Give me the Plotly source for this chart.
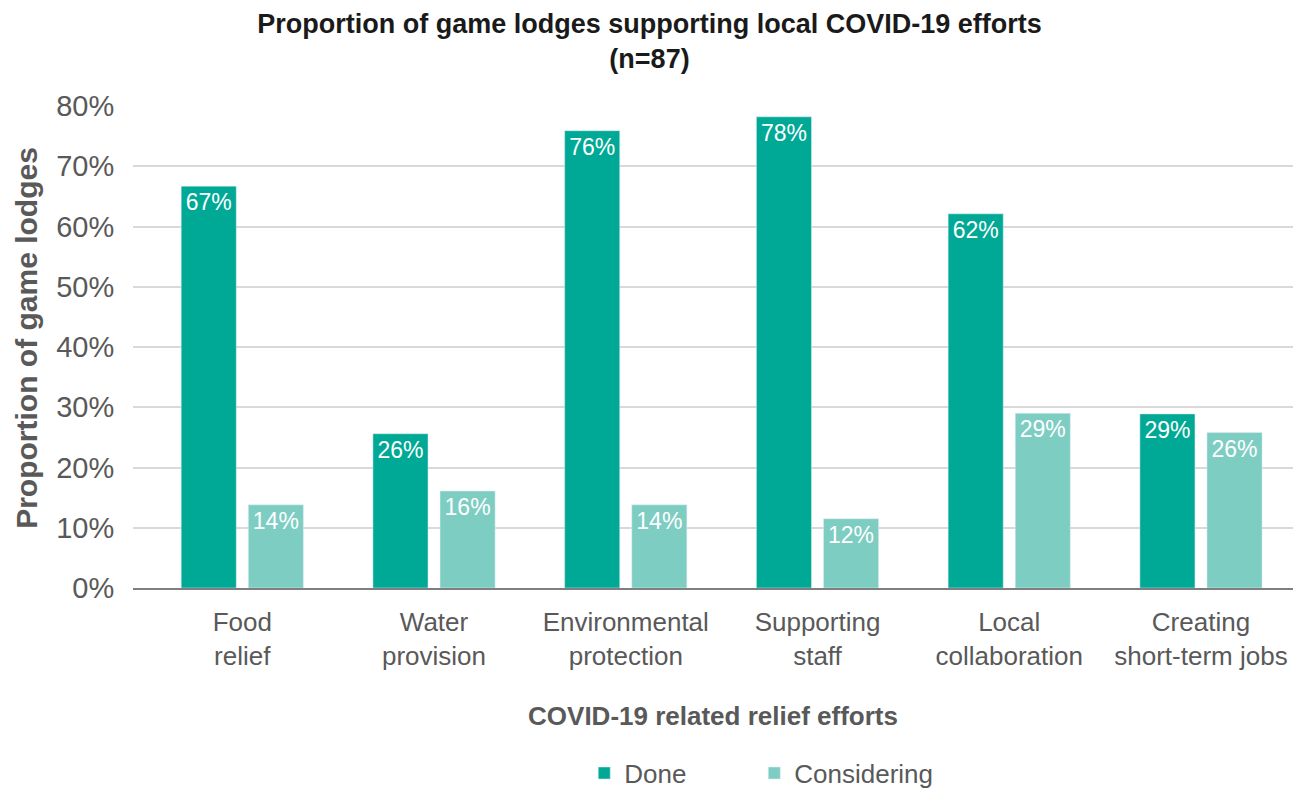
import plotly.graph_objects as go

categories = ["Food<br>relief", "Water<br>provision", "Environmental<br>protection",
              "Supporting<br>staff", "Local<br>collaboration", "Creating<br>short-term jobs"]
done = [66.7, 25.6, 75.9, 78.2, 62.1, 28.9]
considering = [13.8, 16.1, 13.8, 11.5, 29.0, 25.8]
y_ticks = [0, 10, 20, 30, 40, 50, 60, 70, 80]
y_tick_labels = [f"{v}%" for v in y_ticks]

FONT = "Liberation Sans, Arial, sans-serif"
GRAY = "#595959"

fig = go.Figure()
fig.add_trace(go.Bar(
    name="Done", x=categories, y=done, marker_color="#00A995",
    texttemplate="%{y:.0f}%", textposition="inside", insidetextanchor="end",
    textfont=dict(color="white", size=23, family=FONT), constraintext="none",
    legend="legend", showlegend=True,
))
fig.add_trace(go.Bar(
    name="Considering", x=categories, y=considering, marker_color="#7ECDC3",
    texttemplate="%{y:.0f}%", textposition="inside", insidetextanchor="end",
    textfont=dict(color="white", size=23, family=FONT), constraintext="none",
    legend="legend2", showlegend=True,
))

legend_common = dict(orientation="h", xanchor="left", y=-0.384, yanchor="middle",
                     font=dict(size=26, color=GRAY), bgcolor="rgba(0,0,0,0)")

fig.update_layout(
    width=1299, height=791, showlegend=True,
    margin=dict(l=133, r=6, t=106, b=203, autoexpand=False),
    paper_bgcolor="white", plot_bgcolor="white",
    barmode="group", bargap=0.30, bargroupgap=0.179,
    font=dict(family=FONT, color=GRAY),
    title=dict(
        text="<b>Proportion of game lodges supporting local COVID-19 efforts<br>(n=87)</b>",
        x=0.5, xref="container", xanchor="center",
        y=1 - 33 / 791, yref="container", yanchor="top",
        font=dict(family="Liberation Sans Narrow, Arial Narrow, Liberation Sans, Arial", size=27, color="#1a1a1a"),
    ),
    xaxis=dict(
        range=[-0.57, 5.48],
        tickfont=dict(size=26, color=GRAY),
        ticks="outside", ticklen=10, tickcolor="rgba(0,0,0,0)",
        showline=True, linecolor="#7f7f7f", linewidth=2,
        title=dict(text="<b>COVID-19 related relief efforts</b>",
                   font=dict(size=26, color=GRAY), standoff=37),
        automargin=False,
    ),
    yaxis=dict(
        range=[0, 80],
        tickvals=y_ticks, ticktext=y_tick_labels,
        tickfont=dict(size=29, color=GRAY),
        ticks="outside", ticklen=12, tickcolor="rgba(0,0,0,0)",
        showgrid=True, gridcolor="#d9d9d9", gridwidth=1.5,
        zeroline=False,
        automargin=False,
    ),
    annotations=[dict(
        text="<b>Proportion of game lodges</b>", textangle=-90,
        xref="paper", yref="paper", x=-0.0914, y=0.519,
        xanchor="center", yanchor="middle", showarrow=False,
        font=dict(size=30, color=GRAY, family=FONT),
    )],
    legend=dict(x=0.389, **legend_common),
    legend2=dict(x=0.5356, **legend_common),
)

fig.write_html("out.html")
